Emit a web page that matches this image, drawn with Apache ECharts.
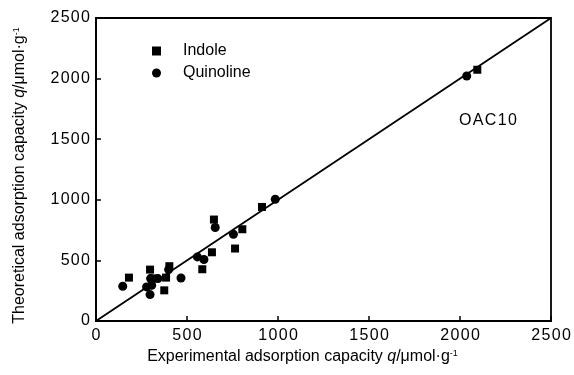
<!DOCTYPE html>
<html>
<head>
<meta charset="utf-8">
<script src="https://cdn.jsdelivr.net/npm/echarts@6/dist/echarts.min.js"></script>
<style>
  html, body { margin: 0; padding: 0; background: #fff; }
  #chart { width: 574px; height: 375px; }
</style>
</head>
<body>
<div id="chart"></div>
<script>
// experimental vs theoretical adsorption capacity
const indole = [
  [181, 358], [297, 424], [311, 352], [385, 358], [403, 452], [375, 253],
  [584, 427], [637, 567], [648, 837], [764, 598], [804, 757], [912, 941],
  [2095, 2073],
];
const quinoline = [
  [147, 287], [278, 281], [297, 218], [306, 295], [300, 350], [340, 350],
  [399, 424], [467, 355], [557, 529], [593, 507], [655, 771], [755, 716],
  [985, 1005], [2037, 2021],
];
const fitLine = [[0, 0], [2500, 2500]];
const axisTicks = [0, 500, 1000, 1500, 2000, 2500];

const font = "Liberation Sans, Arial, sans-serif";
// the original labels are a bit tracked out
const spaced = (s) => String(s).split("").join("\u200a");

const titleRich = {
  t: { fontFamily: font, fontSize: 16, color: "#000" },
  i: { fontFamily: font, fontSize: 16, color: "#000", fontStyle: "italic" },
  s: { fontFamily: font, fontSize: 9, color: "#000", verticalAlign: "top", padding: [0, 0, 6, 0] },
};

const chart = echarts.init(document.getElementById("chart"));
chart.setOption({
  animation: false,
  grid: {
    left: 96,
    right: 23,
    top: 18,
    bottom: 54,
    show: true,
    borderColor: "#000",
    borderWidth: 1.8,
  },
  legend: {
    orient: "vertical",
    left: 147,
    top: 38,
    itemWidth: 9,
    itemHeight: 9,
    itemGap: 6,
    textStyle: { fontFamily: font, fontSize: 16, color: "#000", padding: [0, 0, 0, 17] },
    data: [
      { name: "Indole", icon: "rect" },
      { name: "Quinoline", icon: "circle" },
    ],
  },
  xAxis: {
    type: "value",
    min: 0,
    max: 2500,
    interval: 500,
    splitLine: { show: false },
    axisLine: { lineStyle: { color: "#000", width: 1.8 } },
    axisTick: { inside: true, length: 5, lineStyle: { color: "#000", width: 1.5 } },
    axisLabel: {
      fontFamily: font,
      fontSize: 16,
      color: "#000",
      margin: 7,
      formatter: (v) => (axisTicks.includes(v) ? spaced(v) : ""),
    },
    name: "{t|Experimental adsorption capacity }{i|q}{t|/μmol·g}{s|-1}",
    nameLocation: "middle",
    nameGap: 26,
    nameTextStyle: { padding: [0, 42, 0, 0], rich: titleRich },
  },
  yAxis: {
    type: "value",
    min: 0,
    max: 2500,
    interval: 500,
    splitLine: { show: false },
    axisLine: { lineStyle: { color: "#000", width: 1.8 } },
    axisTick: { inside: true, length: 5, lineStyle: { color: "#000", width: 1.5 } },
    axisLabel: {
      fontFamily: font,
      fontSize: 16,
      color: "#000",
      margin: 6,
      formatter: (v) => spaced(v),
    },
    name: "{t|Theoretical adsorption capacity }{i|q}{t|/μmol·g}{s|-1}",
    nameLocation: "middle",
    nameGap: 68,
    nameTextStyle: { padding: [0, 12, 0, 0], rich: titleRich },
  },
  series: [
    {
      name: "fit",
      type: "line",
      data: fitLine,
      symbol: "none",
      silent: true,
      lineStyle: { color: "#000", width: 1.8 },
      z: 1,
    },
    {
      name: "Indole",
      type: "scatter",
      data: indole,
      symbol: "rect",
      symbolSize: 8,
      itemStyle: { color: "#000", opacity: 1 },
      z: 3,
    },
    {
      name: "Quinoline",
      type: "scatter",
      data: quinoline,
      symbol: "circle",
      symbolSize: 9,
      itemStyle: { color: "#000", opacity: 1 },
      z: 3,
    },
  ],
  graphic: [
    {
      type: "text",
      left: 459,
      top: 113,
      style: { text: spaced("OAC10"), font: "16px " + font, fill: "#000" },
    },
  ],
});
</script>
</body>
</html>
